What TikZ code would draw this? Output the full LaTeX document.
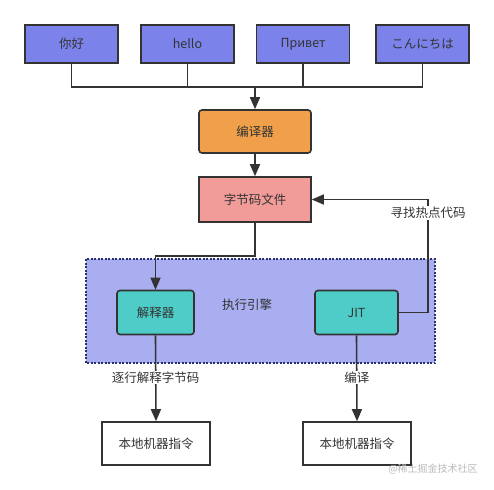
\documentclass[tikz,border=0pt]{standalone}
\usepackage{fontspec}
\setmainfont{Noto Sans CJK SC}
\usepackage{xcolor}
\usetikzlibrary{arrows.meta,positioning,calc}

\definecolor{wordblue}{HTML}{7B83EB}
\definecolor{comporange}{HTML}{F0A04B}
\definecolor{bcpink}{HTML}{F19C99}
\definecolor{engineblue}{HTML}{A9AEF0}
\definecolor{runteal}{HTML}{4ECDC8}
\definecolor{edgegray}{HTML}{333333}
\definecolor{enginedot}{HTML}{2A2F70}

\begin{document}
\begin{tikzpicture}[x=1pt, y=-1pt,
    font=\fontsize{12.5}{14}\selectfont,
    block_word/.style={rectangle, draw=edgegray, fill=wordblue, line width=1.6pt, minimum width=93pt, minimum height=38pt, text=edgegray},
    block_comp/.style={rectangle, draw=edgegray, fill=comporange, line width=1.6pt, rounded corners=3pt, minimum width=112pt, minimum height=43pt, text=edgegray},
    block_bc/.style={rectangle, draw=edgegray, fill=bcpink, line width=1.6pt, minimum width=112pt, minimum height=45pt, text=edgegray},
    block_run/.style={rectangle, draw=edgegray, fill=runteal, line width=1.6pt, rounded corners=3pt, minimum height=44pt, text=edgegray},
    block_out/.style={rectangle, draw=edgegray, fill=white, line width=1.6pt, minimum width=108pt, minimum height=43pt, text=edgegray},
    engine/.style={draw=enginedot, fill=engineblue, line width=1.6pt, dash pattern=on 2pt off 1.5pt},
    tag/.style={fill=white, inner sep=1pt, text=edgegray},
    line/.style={draw=edgegray, line width=1.6pt, -{Triangle[length=12pt, width=10pt]}},
    wire/.style={draw=edgegray, line width=1.6pt}]

    \useasboundingbox (0,0) rectangle (494,489);

    % greetings
    \node [block_word] (w1) at (71.5,44) {你好};
    \node [block_word] (w2) at (187.5,44) {hello};
    \node [block_word] (w3) at (303,44) {Привет};
    \node [block_word] (w4) at (422.5,44) {こんにちは};

    % compiler and bytecode
    \node [block_comp] (comp) at (255,131.5) {编译器};
    \node [block_bc] (bc) at (255,199.5) {字节码文件};

    % execution engine
    \path [engine] (86,259) rectangle (435,363);
    \node [text=edgegray] (eng) at (247,305) {执行引擎};
    \node [block_run, minimum width=77pt] (interp) at (155.5,312.5) {解释器};
    \node [block_run, minimum width=83pt] (jit) at (356.5,312.5) {JIT};

    % native code
    \node [block_out] (nat1) at (156,443.5) {本地机器指令};
    \node [block_out] (nat2) at (357,443.5) {本地机器指令};

    \coordinate (bus) at (255,87);
    \coordinate (turn) at (255,256);
    \coordinate (hot) at (428,312.5);

    \path [wire] (w1.south) |- (bus);
    \path [wire] (w4.south) |- (bus);
    \path [wire] (w2.south) -- (w2.south |- bus);
    \path [wire] (w3.south) -- (w3.south |- bus);
    \path [line] (bus) -- (comp);
    \path [line] (comp) -- (bc);
    \path [line] (bc.south) -- (turn) -| (interp.north);
    \path [line] (jit.east) -- (hot) |- (bc.east);
    \node [tag] (hotlbl) at (428,213) {寻找热点代码};
    \path [line] (interp.south) -- node [tag, pos=0.49] {逐行解释字节码} (nat1.north);
    \path [line] (jit.south) -- node [tag, pos=0.49] {编译} (nat2.north);

    \node [text=gray!55, font=\fontsize{10}{12}\selectfont] (mark) at (433,469) {@稀土掘金技术社区};
\end{tikzpicture}
\end{document}
